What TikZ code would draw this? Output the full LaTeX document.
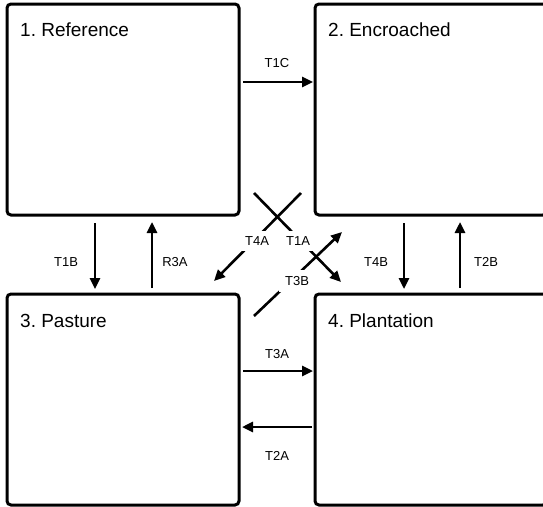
\documentclass[tikz,border=0pt]{standalone}
\usepackage{fontspec}
\setmainfont{Liberation Sans}
\usetikzlibrary{arrows.meta,calc}
\frenchspacing
\begin{document}
\begin{tikzpicture}[x=1pt,y=-1pt,
  statebox/.style={draw=black,line width=3pt,rounded corners=4pt,fill=white,
    minimum width=232pt,minimum height=211pt,inner sep=0pt,outer sep=0pt},
  title/.style={anchor=west,font=\fontsize{19}{21}\selectfont,inner sep=0pt},
  arr/.style={line width=2.6pt,-{Triangle[length=11pt,width=10pt]}},
  lab/.style={font=\fontsize{13}{15}\selectfont,inner sep=0pt},
  dlab/.style={lab,fill=white,inner sep=6pt}]
\useasboundingbox (0,0) rectangle (543,506);
\clip (0,0) rectangle (543,506);
\node[statebox] (b1) at (123,109.5) {};
\node[statebox] (b2) at (431,109.5) {};
\node[statebox] (b3) at (123,399.5) {};
\node[statebox] (b4) at (431,399.5) {};
\node[title] (t1) at (20,30) {1. Reference};
\node[title] (t2) at (328,30) {2. Encroached};
\node[title] (t3) at (20,321) {3. Pasture};
\node[title] (t4) at (328,321) {4. Plantation};
% horizontal arrows
\draw[arr] ($(b1.north east)+(4,78)$) -- ($(b2.north west)+(-2,78)$);
\node[lab] (l1c) at (277,63) {T1C};
\draw[arr] ($(b3.north east)+(4,77)$) -- ($(b4.north west)+(-2,77)$);
\node[lab] (l3a) at (277,354) {T3A};
\draw[arr] ($(b4.north west)+(-3,133)$) -- ($(b3.north east)+(3,133)$);
\node[lab] (l2a) at (277,456) {T2A};
% vertical arrows
\draw[arr] ($(b1.south west)+(88,8)$) -- ($(b3.north west)+(88,-5)$);
\node[lab] (l1b) at (66,262) {T1B};
\draw[arr] ($(b3.north west)+(145,-6)$) -- ($(b1.south west)+(145,7)$);
\node[lab] (lr3a) at (175,262) {R3A};
\draw[arr] ($(b2.south west)+(89,8)$) -- ($(b4.north west)+(89,-5)$);
\node[lab] (l4b) at (376,262) {T4B};
\draw[arr] ($(b4.north west)+(145,-6)$) -- ($(b2.south west)+(145,7)$);
\node[lab] (l2b) at (486,262) {T2B};
% diagonal arrows
\coordinate (d1s) at ($(b1.south east)+(15,-22)$);
\coordinate (d1e) at ($(b4.north west)+(26,-12)$);
\coordinate (d4s) at ($(b2.south west)+(-14,-22)$);
\coordinate (d4e) at ($(b3.north east)+(-25,-13)$);
\coordinate (d3s) at ($(b3.north east)+(15,22)$);
\coordinate (d3e) at ($(b2.south west)+(27,17)$);
\draw[arr] (d1s) -- (d1e);
\draw[arr] (d4s) -- (d4e);
\draw[arr] (d3s) -- (d3e);
\node[dlab] (l4a) at (257,241) {T4A};
\node[dlab] (l1a) at (298,241) {T1A};
\node[dlab] (l3b) at (297,281) {T3B};
\end{tikzpicture}
\end{document}
